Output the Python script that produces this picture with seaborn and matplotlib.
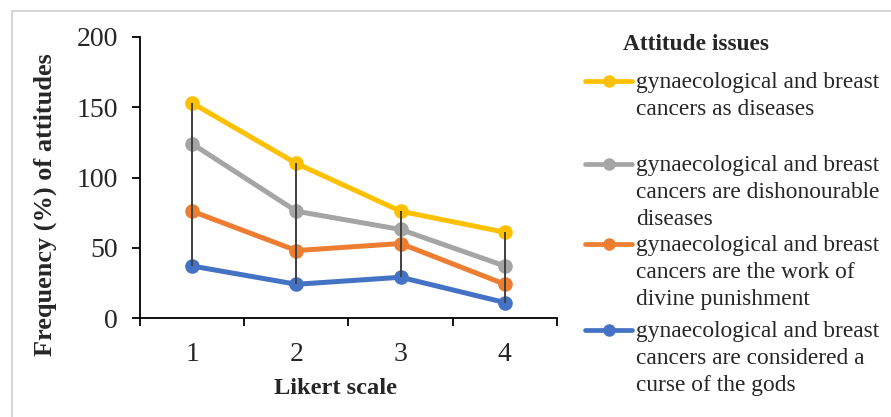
import numpy as np
import pandas as pd
import matplotlib
matplotlib.use("Agg")
import matplotlib.pyplot as plt
from matplotlib.lines import Line2D
from matplotlib.patches import Rectangle
import seaborn as sns

# ---- data (values as displayed on the chart) ----
likert = [1, 2, 3, 4]
diseases = [153, 110, 76, 61]
dishonourable = [124, 76, 63, 37]
divine_punishment = [76, 48, 53, 24]
curse_of_gods = [37, 24, 29, 11]

series_labels = [
    "gynaecological and breast\ncancers as diseases",
    "gynaecological and breast\ncancers are dishonourable\ndiseases",
    "gynaecological and breast\ncancers are the work of\ndivine punishment",
    "gynaecological and breast\ncancers are considered a\ncurse of the gods",
]
series_values = [diseases, dishonourable, divine_punishment, curse_of_gods]
colors = ["#FFC000", "#A5A5A5", "#ED7D31", "#4472C4"]

y_ticks = [0, 50, 100, 150, 200]

sns.set_style("white")
plt.rcParams["font.family"] = ["Liberation Serif", "DejaVu Serif"]

rows = []
for lab, vals in zip(series_labels, series_values):
    for x, v in zip(likert, vals):
        rows.append({"Likert": x, "value": v, "series": lab})
df = pd.DataFrame(rows)

fig = plt.figure(figsize=(8.91, 4.17), dpi=100)
W, H = 891, 417
ax = fig.add_axes([140 / W, 1 - 318 / H, (557 - 140) / W, (318 - 37) / H])

# draw in Excel series order (blue first, yellow last)
order = series_labels[::-1]
pal = dict(zip(series_labels, colors))
for lab in order:
    sub = df[df["series"] == lab]
    sns.lineplot(data=sub, x="Likert", y="value", color=pal[lab], marker="o",
                 markersize=10.5, markeredgewidth=0, linewidth=3.6, ax=ax,
                 sort=False, legend=False, zorder=3)

# high-low lines
arr = np.array(series_values)
ax.vlines(likert, arr.min(axis=0), arr.max(axis=0), colors="#404040",
          linewidth=1.4, zorder=5)

ax.set_xlim(0.5, 4.5)
ax.set_ylim(0, 200)
ax.set_yticks(y_ticks)
ax.set_yticklabels([str(t) for t in y_ticks])
ax.set_xticks([0.5, 1.5, 2.5, 3.5, 4.5])
ax.set_xticklabels([])
ax.set_xticks(likert, minor=True)
ax.set_xticklabels([str(v) for v in likert], minor=True)
ax.tick_params(axis="x", which="major", direction="out", length=6, width=1.3,
               color="black", bottom=True)
ax.tick_params(axis="x", which="minor", length=0, pad=17, labelsize=20)
ax.tick_params(axis="y", direction="out", length=6, width=1.3, color="black",
               left=True, pad=10, labelsize=20)
for s in ["top", "right"]:
    ax.spines[s].set_visible(False)
for s in ["left", "bottom"]:
    ax.spines[s].set_color("black")
    ax.spines[s].set_linewidth(1.3)
ax.set_xlabel("")
ax.set_ylabel("")

fig.text(336 / W, 1 - 388 / H, "Likert scale", ha="center", va="center",
         fontsize=17.6, fontweight="bold")
fig.text(45 / W, 1 - 205 / H, "Frequency (%) of attitudes", ha="center",
         va="center", rotation=90, fontsize=18.9, fontweight="bold")

# legend (manual, Excel style with handle at first text line)
fig.text(623 / W, 1 - 45 / H, "Attitude issues", ha="left", va="center",
         fontsize=16.8, fontweight="bold")
first_line_y = [81, 164, 244, 330]
for lab, col, yy in zip(series_labels, colors, first_line_y):
    fy = 1 - yy / H
    fig.add_artist(Line2D([585 / W, 632 / W], [fy, fy], color=col, lw=3.4,
                          transform=fig.transFigure))
    fig.add_artist(Line2D([609 / W], [fy], color=col, marker="o", markersize=9,
                          markeredgewidth=0, transform=fig.transFigure))
    fig.text(636 / W, fy + 9 / H, lab, ha="left", va="top", fontsize=16.8,
             linespacing=1.39)

fig.add_artist(Rectangle((12 / W, -0.1), 2, 1 - 11 / H + 0.1, fill=False,
                         edgecolor="#D0D0D0", lw=1.2, transform=fig.transFigure))

fig.savefig("out.png", dpi=100)
